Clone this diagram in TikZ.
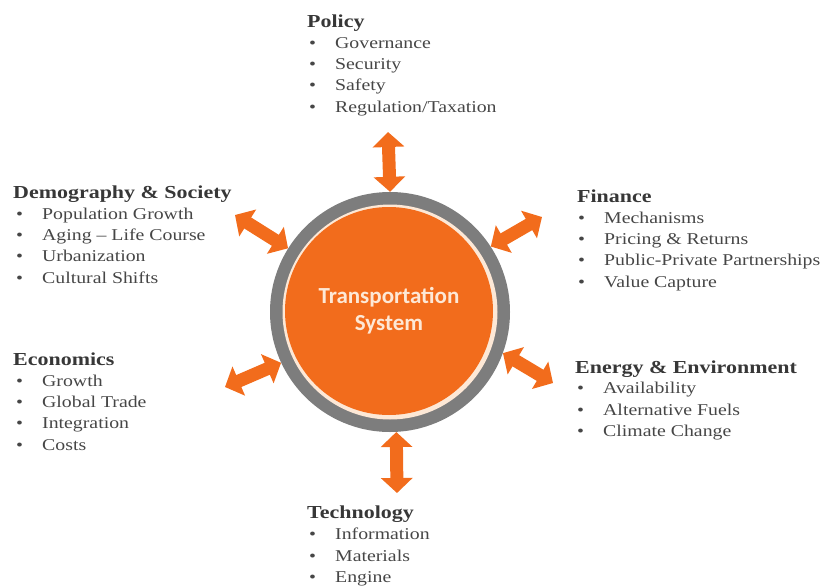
\documentclass[tikz,border=0pt]{standalone}
\usepackage{fontspec}
\setmainfont[FakeStretch=1.2]{Liberation Serif}
\newfontfamily\centerfont{Carlito}
\usetikzlibrary{arrows.meta}
\definecolor{torange}{RGB}{242,108,28}
\definecolor{tgray}{RGB}{125,125,125}
\definecolor{tcream}{RGB}{253,232,214}
\definecolor{ttext}{RGB}{70,70,70}
\definecolor{thead}{RGB}{55,55,55}
\tikzset{
  head/.style={anchor=base west, inner sep=0pt, text=thead, font=\fontsize{18.3}{20}\selectfont\bfseries},
  item/.style={anchor=base west, inner sep=0pt, text=ttext, font=\fontsize{16.5}{20}\selectfont},
  biarrow/.style={draw=torange, line width=13pt,
    {Triangle[width=31pt,length=15pt]}-{Triangle[width=31pt,length=15pt]}},
}
\newcommand{\bul}[1]{\makebox[26pt][l]{\textbullet}#1}
\begin{document}
\begin{tikzpicture}[x=1pt,y=-1pt]
\useasboundingbox (0,0) rectangle (831,587);
% central circle
\node[circle, fill=tgray, minimum size=240pt, inner sep=0pt] (ring) at (390,312) {};
\node[circle, fill=tcream, minimum size=215pt, inner sep=0pt] (creamline) at (390,312) {};
\node[circle, fill=torange, minimum size=208pt, inner sep=0pt, text=tcream,
  font=\centerfont\bfseries\fontsize{23}{27}\selectfont, align=center] (core) at (389,311)
  {Transportation\\System};
% arrow free ends
\coordinate (aPol) at (388,132);
\coordinate (aTec) at (397,493);
\coordinate (aDem) at (235,215);
\coordinate (aEco) at (225,387);
\coordinate (aFin) at (542,217);
\coordinate (aEne) at (553,383);
\draw[biarrow] (ring.90) -- (aPol);
\draw[biarrow] (ring.-87) -- (aTec);
\draw[biarrow] (ring.148) -- (aDem);
\draw[biarrow] (ring.205) -- (aEco);
\draw[biarrow] (ring.33) -- (aFin);
\draw[biarrow] (ring.-20) -- (aEne);
% Policy
\node[head] (polh) at (307,27) {Policy};
\foreach \t [count=\i] in {Governance,Security,Safety,Regulation/Taxation}
  \node[item] (pol\i) at (309,{27+21.3*\i}) {\bul{\t}};
% Demography
\node[head] (demh) at (13,198) {Demography \& Society};
\foreach \t [count=\i] in {Population Growth,Aging -- Life Course,Urbanization,Cultural Shifts}
  \node[item] (dem\i) at (16,{198+21.3*\i}) {\bul{\t}};
% Economics
\node[head] (ecoh) at (13,365) {Economics};
\foreach \t [count=\i] in {Growth,Global Trade,Integration,Costs}
  \node[item] (eco\i) at (16,{365+21.3*\i}) {\bul{\t}};
% Finance
\node[head] (finh) at (577,202) {Finance};
\foreach \t [count=\i] in {Mechanisms,Pricing \& Returns,Public-Private Partnerships,Value Capture}
  \node[item] (fin\i) at (578,{202+21.3*\i}) {\bul{\t}};
% Energy
\node[head] (eneh) at (575,373) {Energy \& Environment};
\foreach \t [count=\i] in {Availability,Alternative Fuels,Climate Change}
  \node[item] (ene\i) at (577,{372+21.5*\i}) {\bul{\t}};
% Technology
\node[head] (tech) at (307,518) {Technology};
\foreach \t [count=\i] in {Information,Materials,Engine}
  \node[item] (tec\i) at (309,{518+21.5*\i}) {\bul{\t}};
\end{tikzpicture}
\end{document}
